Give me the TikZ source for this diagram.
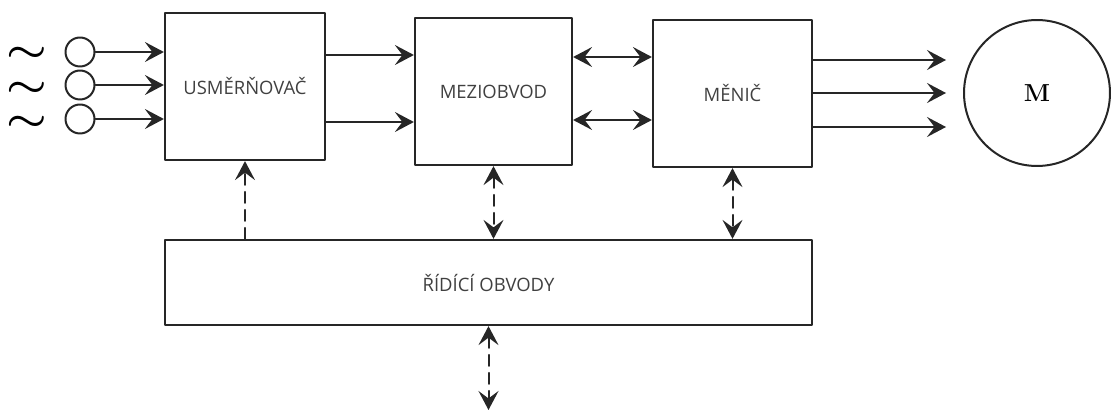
\documentclass[tikz,border=0pt]{standalone}
\usepackage{fontspec}
\usepackage{bm}
\newfontfamily\blokfont{Open Sans}
\usetikzlibrary{arrows.meta}

\begin{document}
\begin{tikzpicture}[line cap=round,line join=round,x=0.02cm,y=-0.02cm,
  blok/.style={draw=black!85,line width=0.045cm,inner sep=0pt,text=black!75,
    font=\blokfont\fontsize{10.5}{12}\selectfont},
  zdroj/.style={circle,draw=black!85,line width=0.04cm,minimum size=0.58cm,inner sep=0pt},
  vlna/.style={inner sep=0pt,text height=0.12cm,text depth=0cm,font=\fontsize{20}{22}\selectfont},
  vodic/.style={draw=black!85,line width=0.04cm},
  hrot/.tip={Stealth[length=0.38cm,width=0.4cm,inset=0.15cm]},
  sipka/.style={vodic,-hrot},
  obousmer/.style={vodic,hrot-hrot},
  rizeni/.style={dash pattern=on 0.22cm off 0.14cm}]
\useasboundingbox (0,0) rectangle (1113,412);
% bloky menice
\node[blok,minimum width=3.2cm,minimum height=2.94cm] (usm) at (245,86.5) {USMĚRŇOVAČ};
\node[blok,minimum width=3.14cm,minimum height=2.94cm] (mez) at (493.5,91.5) {MEZIOBVOD};
\node[blok,minimum width=3.18cm,minimum height=2.94cm] (men) at (732.5,93.5) {MĚNIČ};
\node[blok,minimum width=12.94cm,minimum height=1.7cm] (rid) at (488.5,282.5) {ŘÍDÍCÍ OBVODY};
\node[circle,draw=black!85,line width=0.04cm,minimum size=2.92cm,
  font=\bfseries\fontsize{14}{16}\selectfont] (motor) at (1037,93) {M};
% napajeci sit
\foreach \i/\y in {1/59,2/94,3/128} {
  \node[vlna] (t\i) at (27,\y) {\scalebox{1.25}[1]{$\bm{\sim}$}};
}
\foreach \i/\y in {1/52,2/85,3/119} {
  \node[zdroj] (z\i) at (80,\y) {};
  \draw[sipka] (z\i) -- (z\i -| usm.west);
}
% silove vazby
\foreach \y in {55,122}
  \draw[sipka] (usm.east |- 0,\y) -- (mez.west |- 0,\y);
\foreach \y in {57,120}
  \draw[obousmer] (mez.east |- 0,\y) -- (men.west |- 0,\y);
\foreach \y in {60,93,127}
  \draw[sipka,shorten >=0.34cm] (men.east |- 0,\y) -- (motor.west |- 0,\y);
% rizeni
\coordinate (ven) at (rid.south |- 0,410);
\draw[sipka,rizeni] (usm.south |- rid.north) -- (usm.south);
\draw[obousmer,rizeni] (mez.south) -- (mez.south |- rid.north);
\draw[obousmer,rizeni] (men.south) -- (men.south |- rid.north);
\draw[obousmer,rizeni] (rid.south) -- (ven);
\end{tikzpicture}
\end{document}
